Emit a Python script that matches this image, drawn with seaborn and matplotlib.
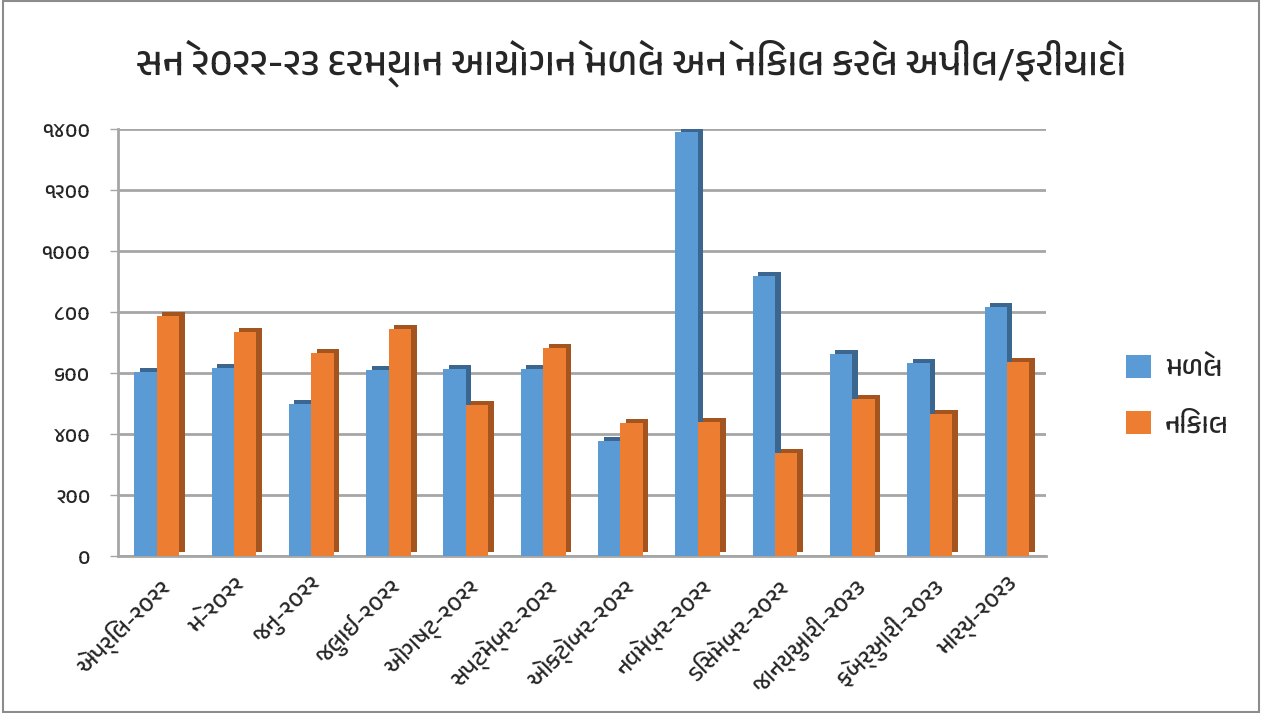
import numpy as np
import matplotlib
matplotlib.use('Agg')
import matplotlib.pyplot as plt
import matplotlib.patheffects as pe
from matplotlib import font_manager
import pandas as pd
import seaborn as sns

# =========================
# DATA
# =========================
months = ['એપ્રિલ-૨૦૨૨', 'મે-૨૦૨૨', 'જુન-૨૦૨૨', 'જુલાઈ-૨૦૨૨', 'ઓગષ્ટ-૨૦૨૨',
          'સપ્ટેમ્બર-૨૦૨૨', 'ઓક્ટોબર-૨૦૨૨', 'નવેમ્બર-૨૦૨૨', 'ડિસેમ્બર-૨૦૨૨',
          'જાન્યુઆરી-૨૦૨૩', 'ફેબ્રુઆરી-૨૦૨૩', 'માર્ચ-૨૦૨૩']
received = [603, 616, 498, 610, 613, 613, 377, 1391, 918, 661, 633, 816]
disposed = [787, 734, 666, 744, 495, 682, 436, 440, 339, 515, 467, 637]
series_labels = ['મળેલ', 'નિકાલ']
ytick_values = [0, 200, 400, 600, 800, 1000, 1200, 1400]
ytick_labels = ['૦', '૨૦૦', '૪૦૦', '૬૦૦', '૮૦૦', '૧૦૦૦', '૧૨૦૦', '૧૪૦૦']
title = 'સને ૨૦૨૨-૨૩ દરમ્યાન આયોગને મળેલ અને નિકાલ કરેલ અપીલ/ફરીયાદો'

colors = ['#5B9BD5', '#ED7D31']
side_colors = ['#3A6690', '#A3541F']

# =========================
# FONTS
# =========================
sns.set_theme('paper')
sns.set_style('white')

guj = sorted({f.name for f in font_manager.fontManager.ttflist if 'Gujarati' in f.name})
plt.rcParams['font.family'] = guj + ['DejaVu Sans']

# =========================
# PLOT
# =========================
df = pd.DataFrame({
    'month': months * 2,
    'value': received + disposed,
    'series': [series_labels[0]] * len(months) + [series_labels[1]] * len(months),
})

fig = plt.figure(figsize=(12.62, 7.13), dpi=100)
ax = fig.add_axes([0.0935, 0.22, 0.735, 0.599])

sns.barplot(data=df, x='month', y='value', hue='series', palette=colors,
            width=0.58, saturation=1, linewidth=0, ax=ax, zorder=3)

# pseudo 3D side faces via offset shadow
n = len(months)
for i, bar in enumerate(ax.patches[:2 * n]):
    k = i // n
    bar.set_path_effects([
        pe.SimplePatchShadow(offset=(4, 3), shadow_rgbFace=side_colors[k], alpha=1),
        pe.Normal(),
    ])

ax.set_ylim(0, 1400)
ax.set_xlim(-0.5, n - 0.5)
ax.set_yticks(ytick_values)
ax.set_yticklabels(ytick_labels, fontsize=15)
ax.set_xticks(range(n))
ax.set_xticklabels(months, rotation=45, ha='right', rotation_mode='anchor', fontsize=17)
ax.tick_params(axis='x', length=0, pad=12)
ax.tick_params(axis='y', length=6, color='#A6A6A6', left=True, pad=14)
ax.yaxis.grid(True, color='#A6A6A6', linewidth=2, zorder=0)
ax.set_axisbelow(True)
for s in ['top', 'right']:
    ax.spines[s].set_visible(False)
for s in ['left', 'bottom']:
    ax.spines[s].set_color('#A6A6A6')
    ax.spines[s].set_linewidth(2)
ax.set_xlabel('')
ax.set_ylabel('')

ax.legend(loc='center left', bbox_to_anchor=(1.06, 0.375), frameon=False,
          handlelength=0.9, handleheight=0.9, labelspacing=1.1, handletextpad=0.5,
          prop={'weight': 'bold', 'size': 20})

fig.suptitle(title, fontsize=28, fontweight='bold', y=0.945)

fig.patches.append(plt.Rectangle((0.002, 0.002), 0.996, 0.996, transform=fig.transFigure,
                                 fill=False, edgecolor='#8C8C8C', linewidth=1.5))

fig.savefig('out.png', dpi=100)
